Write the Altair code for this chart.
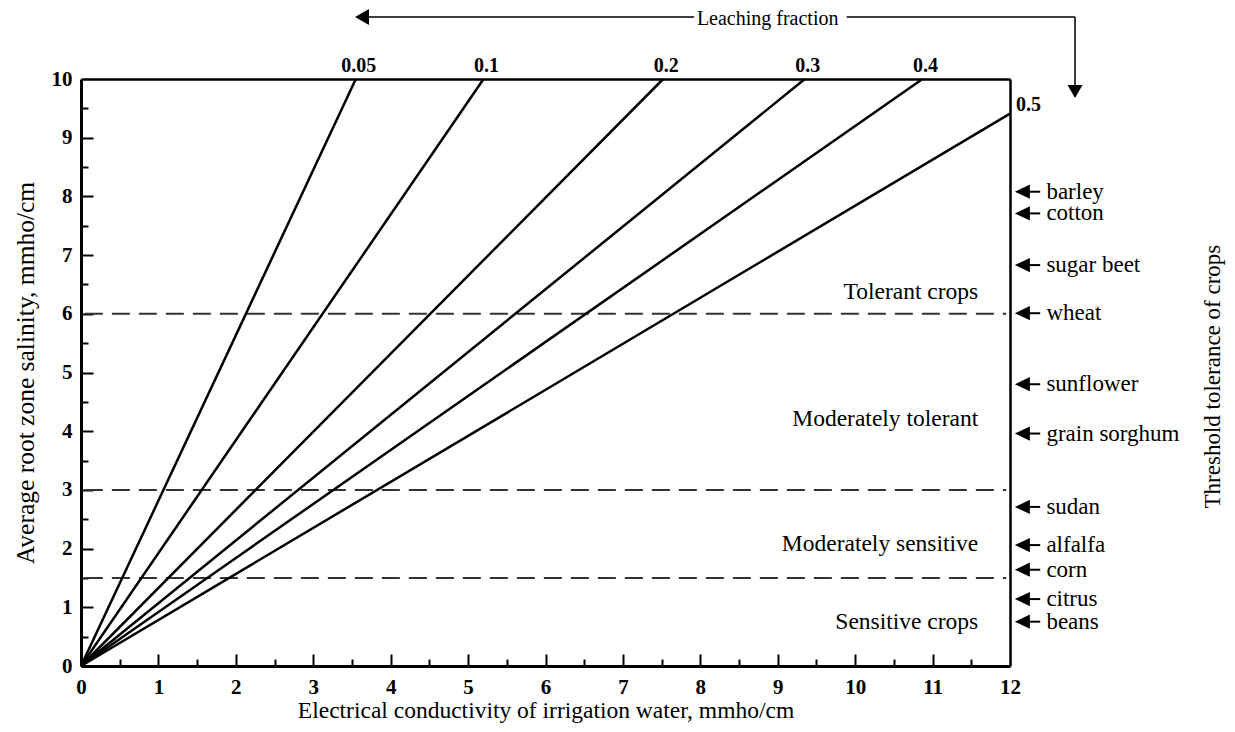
import altair as alt
import pandas as pd

W, H = 929, 587
FONT = "Liberation Serif"

# Leaching fraction lines: end points (all start at origin)
lf_labels = ["0.05", "0.1", "0.2", "0.3", "0.4", "0.5"]
lf_end_x = [3.55, 5.20, 7.52, 9.35, 10.87, 12.0]
lf_end_y = [10.0, 10.0, 10.0, 10.0, 10.0, 9.41]

# Crop tolerance classes
thresholds = [6.0, 3.0, 1.5]
class_names = ["Tolerant crops", "Moderately tolerant", "Moderately sensitive", "Sensitive crops"]
class_y = [6.37, 4.21, 2.08, 0.75]

# Crop threshold tolerance
crops = ["barley", "cotton", "sugar beet", "wheat", "sunflower", "grain sorghum",
         "sudan", "alfalfa", "corn", "citrus", "beans"]
crop_tol = [8.08, 7.71, 6.83, 6.01, 4.80, 3.96, 2.71, 2.06, 1.64, 1.14, 0.755]

# Axis ticks
x_labels = list(range(0, 13))
y_labels = list(range(0, 11))
x_major = list(range(1, 12))
x_minor = [i + 0.5 for i in range(12)]
y_major = list(range(1, 10))
y_minor = [i + 0.5 for i in range(10)]

xs = alt.Scale(domain=[0, 12], nice=False, zero=False)
ys = alt.Scale(domain=[0, 10], nice=False, zero=False)

# ---- lines ----
rows = []
for lab, ex, ey in zip(lf_labels, lf_end_x, lf_end_y):
    rows.append({"lf": lab, "x": 0.0, "y": 0.0})
    rows.append({"lf": lab, "x": ex, "y": ey})
lines_df = pd.DataFrame(rows)

lines = alt.Chart(lines_df).mark_line(color="black", strokeWidth=2.5).encode(
    x=alt.X("x:Q", scale=xs, title="Electrical conductivity of irrigation water, mmho/cm",
            axis=alt.Axis(orient="bottom", values=x_labels, ticks=False, tickSize=0, domain=True,
                          domainColor="black", domainWidth=3,
                          grid=False, labelFont=FONT, labelFontSize=21, labelFontWeight="bold",
                          labelColor="black", labelPadding=10, labelFlush=False,
                          titleFont=FONT, titleFontSize=23.5, titleFontWeight="normal",
                          titleColor="black", titlePadding=1)),
    y=alt.Y("y:Q", scale=ys, title="Average root zone salinity, mmho/cm",
            axis=alt.Axis(orient="left", values=y_labels, ticks=False, tickSize=0, domain=True,
                          domainColor="black", domainWidth=3,
                          grid=False, labelFont=FONT, labelFontSize=21, labelFontWeight="bold",
                          labelColor="black", labelPadding=9, labelFlush=False,
                          titleFont=FONT, titleFontSize=25.5, titleFontWeight="normal",
                          titleColor="black", titlePadding=13)),
    detail="lf:N",
)

dummy = pd.DataFrame({"x": [0.0], "y": [0.0]})

def tick_layer(xv, yv, size):
    return alt.Chart(dummy).mark_point(opacity=0).encode(
        x=alt.X("x:Q", scale=xs, title="",
                axis=alt.Axis(orient="top", offset=-H, values=xv, labels=False, domain=False,
                              grid=False, ticks=True, tickSize=size, tickWidth=2,
                              tickColor="black")),
        y=alt.Y("y:Q", scale=ys, title="",
                axis=alt.Axis(orient="right", offset=-W, values=yv, labels=False, domain=False,
                              grid=False, ticks=True, tickSize=size, tickWidth=2,
                              tickColor="black")),
    )

major = tick_layer(x_major, y_major, 12)
minor = tick_layer(x_minor, y_minor, 7)

# frame: top and right borders
frame = alt.Chart(dummy).mark_point(opacity=0).encode(
    x=alt.X("x:Q", scale=xs, title="",
            axis=alt.Axis(orient="top", values=x_labels, labels=False, ticks=False, tickSize=0,
                          grid=False, domain=True, domainColor="black", domainWidth=2.5)),
    y=alt.Y("y:Q", scale=ys, title="",
            axis=alt.Axis(orient="right", values=y_labels, labels=False, ticks=False, tickSize=0,
                          grid=False, domain=True, domainColor="black", domainWidth=2.5)),
)

# ---- line labels ----
lab_df = pd.DataFrame({"lf": lf_labels, "x": lf_end_x, "y": lf_end_y})
top_labels = alt.Chart(lab_df.iloc[:5]).mark_text(
    font=FONT, fontSize=20, fontWeight="bold", baseline="alphabetic", dy=-7, dx=3, color="black"
).encode(x=alt.X("x:Q", scale=xs, axis=None), y=alt.Y("y:Q", scale=ys, axis=None), text="lf:N")
end_label = alt.Chart(lab_df.iloc[5:]).mark_text(
    font=FONT, fontSize=20, fontWeight="bold", baseline="alphabetic", align="left", dx=6, dy=-3,
    color="black"
).encode(x=alt.X("x:Q", scale=xs, axis=None), y=alt.Y("y:Q", scale=ys, axis=None), text="lf:N")

# ---- dashed threshold lines ----
th_df = pd.DataFrame({"y": thresholds, "x0": [0.05] * 3, "x1": [11.95] * 3})
dashed = alt.Chart(th_df).mark_rule(color="#333333", strokeWidth=2, strokeDash=[18, 9]).encode(
    x=alt.X("x0:Q", scale=xs, axis=None), x2="x1:Q", y=alt.Y("y:Q", scale=ys, axis=None)
)

# ---- class labels ----
cls_df = pd.DataFrame({"name": class_names, "y": class_y, "x": [11.59] * 4})
cls_text = alt.Chart(cls_df).mark_text(
    font=FONT, fontSize=23.5, align="right", baseline="middle", color="black"
).encode(x=alt.X("x:Q", scale=xs, axis=None), y=alt.Y("y:Q", scale=ys, axis=None), text="name:N")

# ---- crop arrows ----
crop_df = pd.DataFrame({"crop": crops, "y": crop_tol,
                        "xh": [12.16] * len(crops), "xs0": [12.16] * len(crops),
                        "xs1": [12.39] * len(crops), "xt": [12.47] * len(crops)})
LEFT_HEAD = "M-1,0L1,-0.95L1,0.95Z"
crop_heads = alt.Chart(crop_df).mark_point(
    shape=LEFT_HEAD, size=225, filled=True, color="black", opacity=1
).encode(x=alt.X("xh:Q", scale=xs, axis=None), y=alt.Y("y:Q", scale=ys, axis=None))
crop_shafts = alt.Chart(crop_df).mark_rule(color="black", strokeWidth=2).encode(
    x=alt.X("xs0:Q", scale=xs, axis=None), x2="xs1:Q", y=alt.Y("y:Q", scale=ys, axis=None)
)
crop_text = alt.Chart(crop_df).mark_text(
    font=FONT, fontSize=23, align="left", baseline="middle", color="black"
).encode(x=alt.X("xt:Q", scale=xs, axis=None), y=alt.Y("y:Q", scale=ys, axis=None), text="crop:N")

# ---- leaching fraction annotation ----
seg_df = pd.DataFrame({"x": [3.70, 9.89, 12.84], "x2": [7.92, 12.84, 12.84],
                       "y": [11.056, 11.056, 11.056], "y2": [11.056, 11.056, 9.88]})
segs = alt.Chart(seg_df).mark_rule(color="black", strokeWidth=1.5).encode(
    x=alt.X("x:Q", scale=xs, axis=None), x2="x2:Q",
    y=alt.Y("y:Q", scale=ys, axis=None), y2="y2:Q"
)
head_df = pd.DataFrame({"x": [3.63], "y": [11.056]})
lf_left_head = alt.Chart(head_df).mark_point(
    shape="M-1,0L1,-1.15L1,1.15Z", size=196, filled=True, color="black", opacity=1
).encode(x=alt.X("x:Q", scale=xs, axis=None), y=alt.Y("y:Q", scale=ys, axis=None))
down_df = pd.DataFrame({"x": [12.84], "y": [9.787]})
lf_down_head = alt.Chart(down_df).mark_point(
    shape="M0,1L-1.15,-1L1.15,-1Z", size=169, filled=True, color="black", opacity=1
).encode(x=alt.X("x:Q", scale=xs, axis=None), y=alt.Y("y:Q", scale=ys, axis=None))
lf_title_df = pd.DataFrame({"t": ["Leaching fraction"], "x": [8.87], "y": [11.02]})
lf_title = alt.Chart(lf_title_df).mark_text(
    font=FONT, fontSize=20, baseline="middle", align="center", color="black"
).encode(x=alt.X("x:Q", scale=xs, axis=None), y=alt.Y("y:Q", scale=ys, axis=None), text="t:N")

# ---- right title ----
rt_df = pd.DataFrame({"t": ["Threshold tolerance of crops"], "x": [14.62], "y": [4.93]})
right_title = alt.Chart(rt_df).mark_text(
    font=FONT, fontSize=23, angle=270, baseline="middle", align="center", color="black"
).encode(x=alt.X("x:Q", scale=xs, axis=None), y=alt.Y("y:Q", scale=ys, axis=None), text="t:N")

chart = alt.layer(
    dashed, lines, major, minor, frame, top_labels, end_label, cls_text,
    crop_heads, crop_shafts, crop_text, segs, lf_left_head, lf_down_head, lf_title, right_title
).resolve_axis(x="independent", y="independent").properties(
    width=W, height=H,
    autosize=alt.AutoSizeParams(type="none"),
    padding={"left": 73, "top": 71, "right": 216, "bottom": 58},
    background="white",
).configure_view(strokeWidth=0)

chart.save("out.html", embed_options={"renderer": "svg", "actions": False})
